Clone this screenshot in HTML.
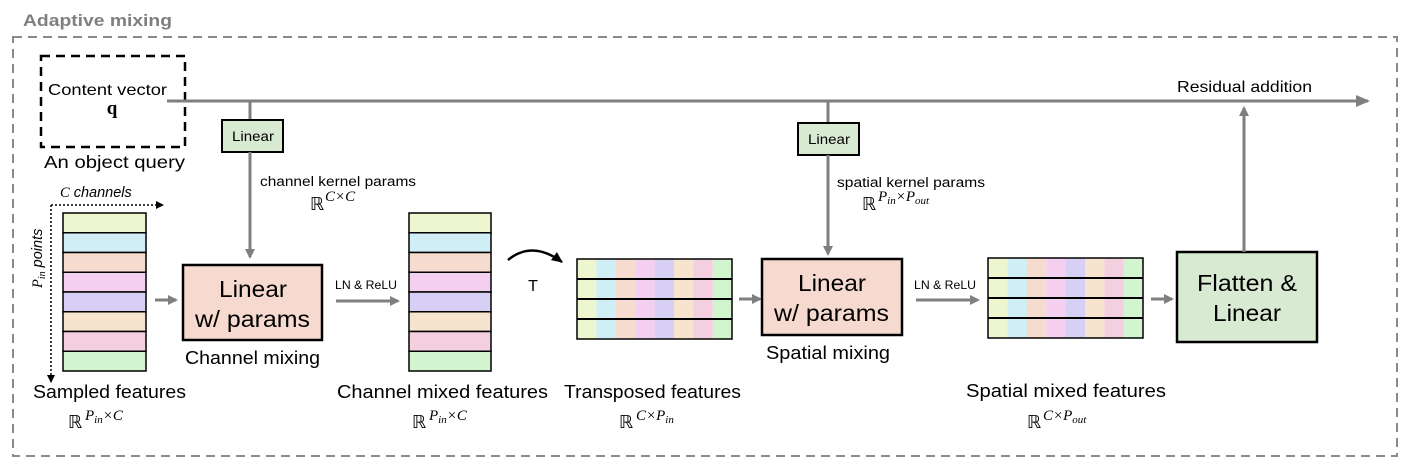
<!DOCTYPE html>
<html><head><meta charset="utf-8"><style>
html,body{margin:0;padding:0;background:#fff;}
svg{display:block;font-family:"Liberation Sans","DejaVu Sans",sans-serif;}
.m{font-family:"Liberation Serif","DejaVu Serif",serif;font-style:italic;}
</style></head><body>
<svg width="1415" height="474" viewBox="0 0 1415 474" xmlns="http://www.w3.org/2000/svg">
<defs>
<marker id="ga" markerWidth="10" markerHeight="10" refX="8" refY="5" orient="auto" markerUnits="userSpaceOnUse"><path d="M0,0 L10,5 L0,10 Z" fill="#7f7f7f"/></marker>
<marker id="ga2" markerWidth="14" markerHeight="12" refX="12" refY="6" orient="auto" markerUnits="userSpaceOnUse"><path d="M0,0 L14,6 L0,12 Z" fill="#7f7f7f"/></marker>
<marker id="ka" markerWidth="8" markerHeight="8" refX="7" refY="4" orient="auto" markerUnits="userSpaceOnUse"><path d="M0,0 L8,4 L0,8 Z" fill="#000"/></marker>
<marker id="ka2" markerWidth="12" markerHeight="12" refX="10" refY="6" orient="auto" markerUnits="userSpaceOnUse"><path d="M0,1 L11,6 L0,11 Z" fill="#000"/></marker>
</defs>

<text x="23" y="26" font-size="17" font-weight="bold" fill="#7f7f7f" textLength="149" lengthAdjust="spacingAndGlyphs">Adaptive mixing</text>
<rect x="13" y="37" width="1384" height="419" fill="none" stroke="#8a8a8a" stroke-width="2" stroke-dasharray="9,6"/>

<rect x="41" y="56" width="144" height="91" fill="none" stroke="#000" stroke-width="2.5" stroke-dasharray="9,6"/>
<text x="48" y="95" font-size="16" textLength="119" lengthAdjust="spacingAndGlyphs">Content vector</text>
<text x="112" y="114" font-size="19" font-weight="bold" text-anchor="middle" font-family="Liberation Serif,serif">q</text>
<text x="44" y="168" font-size="17.5" textLength="141" lengthAdjust="spacingAndGlyphs">An object query</text>

<line x1="167" y1="101" x2="1368" y2="101" stroke="#7f7f7f" stroke-width="3" marker-end="url(#ga2)"/>
<text x="1177" y="92" font-size="16" textLength="135" lengthAdjust="spacingAndGlyphs">Residual addition</text>

<line x1="250" y1="101" x2="250" y2="120" stroke="#7f7f7f" stroke-width="3"/>
<rect x="222" y="120" width="61" height="32" fill="#d9ead3" stroke="#000" stroke-width="2"/>
<text x="232" y="141" font-size="13.5" textLength="42" lengthAdjust="spacingAndGlyphs">Linear</text>
<line x1="250" y1="152" x2="250" y2="257" stroke="#7f7f7f" stroke-width="3" marker-end="url(#ga)"/>
<text x="260" y="186" font-size="13.5" textLength="156" lengthAdjust="spacingAndGlyphs">channel kernel params</text>
<text x="310" y="210" font-size="18">ℝ</text><text x="325" y="201" font-size="15" class="m">C×C</text>

<g stroke="#000" stroke-width="1.5">
<rect x="63" y="213" width="83" height="19.75" fill="#eef6cf"/>
<rect x="63" y="232.75" width="83" height="19.75" fill="#cfeef6"/>
<rect x="63" y="252.5" width="83" height="19.75" fill="#f6dccf"/>
<rect x="63" y="272.25" width="83" height="19.75" fill="#f4cff0"/>
<rect x="63" y="292" width="83" height="19.75" fill="#d8cff4"/>
<rect x="63" y="311.75" width="83" height="19.75" fill="#f6e4cf"/>
<rect x="63" y="331.5" width="83" height="19.75" fill="#f4cfe0"/>
<rect x="63" y="351.25" width="83" height="19.75" fill="#d2f4cf"/>
</g>
<line x1="51" y1="205" x2="163" y2="205" stroke="#000" stroke-width="1.5" stroke-dasharray="2,2" marker-end="url(#ka)"/>
<line x1="51" y1="205" x2="51" y2="382" stroke="#000" stroke-width="1.5" stroke-dasharray="2,2" marker-end="url(#ka)"/>
<text x="60" y="197" font-size="14.5" font-style="italic"><tspan class="m">C</tspan> channels</text>
<text transform="translate(42,288) rotate(-90)" font-size="14.5" font-style="italic"><tspan class="m">P<tspan font-size="10" dy="3">in</tspan></tspan><tspan dy="-3"> points</tspan></text>
<text x="33" y="398" font-size="18" textLength="153" lengthAdjust="spacingAndGlyphs">Sampled features</text>
<text x="68" y="428" font-size="18">ℝ</text><text x="85" y="420" font-size="15" class="m">P<tspan font-size="11" dy="3">in</tspan><tspan dy="-3">×C</tspan></text>

<line x1="155" y1="300" x2="176" y2="300" stroke="#7f7f7f" stroke-width="3" marker-end="url(#ga)"/>

<rect x="183" y="265" width="139" height="75" fill="#f6dacf" stroke="#000" stroke-width="2.5"/>
<text x="219" y="297" font-size="23" textLength="68" lengthAdjust="spacingAndGlyphs">Linear</text>
<text x="195" y="327" font-size="23" textLength="115" lengthAdjust="spacingAndGlyphs">w/ params</text>
<text x="185" y="364" font-size="18" textLength="135" lengthAdjust="spacingAndGlyphs">Channel mixing</text>

<text x="335" y="289" font-size="12" textLength="62" lengthAdjust="spacingAndGlyphs">LN &amp; ReLU</text>
<line x1="336" y1="301" x2="398" y2="301" stroke="#7f7f7f" stroke-width="3" marker-end="url(#ga)"/>

<g stroke="#000" stroke-width="1.5">
<rect x="409" y="213" width="82" height="19.75" fill="#eef6cf"/>
<rect x="409" y="232.75" width="82" height="19.75" fill="#cfeef6"/>
<rect x="409" y="252.5" width="82" height="19.75" fill="#f6dccf"/>
<rect x="409" y="272.25" width="82" height="19.75" fill="#f4cff0"/>
<rect x="409" y="292" width="82" height="19.75" fill="#d8cff4"/>
<rect x="409" y="311.75" width="82" height="19.75" fill="#f6e4cf"/>
<rect x="409" y="331.5" width="82" height="19.75" fill="#f4cfe0"/>
<rect x="409" y="351.25" width="82" height="19.75" fill="#d2f4cf"/>
</g>
<text x="337" y="398" font-size="18" textLength="211" lengthAdjust="spacingAndGlyphs">Channel mixed features</text>
<text x="412" y="428" font-size="18">ℝ</text><text x="429" y="420" font-size="15" class="m">P<tspan font-size="11" dy="3">in</tspan><tspan dy="-3">×C</tspan></text>

<path d="M508,260 Q532,240 562,262" fill="none" stroke="#000" stroke-width="2.5" marker-end="url(#ka2)"/>
<text x="533" y="291" font-size="16" text-anchor="middle">T</text>

<g id="grid">
<rect x="577" y="259" width="19.4" height="80" fill="#eef6cf"/>
<rect x="596.4" y="259" width="19.4" height="80" fill="#cfeef6"/>
<rect x="615.8" y="259" width="19.4" height="80" fill="#f6dccf"/>
<rect x="635.2" y="259" width="19.4" height="80" fill="#f4cff0"/>
<rect x="654.6" y="259" width="19.4" height="80" fill="#d8cff4"/>
<rect x="674" y="259" width="19.4" height="80" fill="#f6e4cf"/>
<rect x="693.4" y="259" width="19.4" height="80" fill="#f4cfe0"/>
<rect x="712.8" y="259" width="19.4" height="80" fill="#d2f4cf"/>
<rect x="577" y="259" width="155" height="80" fill="none" stroke="#000" stroke-width="1.5"/>
<line x1="577" y1="279" x2="732" y2="279" stroke="#000" stroke-width="2"/>
<line x1="577" y1="299" x2="732" y2="299" stroke="#000" stroke-width="2"/>
<line x1="577" y1="319" x2="732" y2="319" stroke="#000" stroke-width="2"/>
</g>
<text x="564" y="398" font-size="18" textLength="177" lengthAdjust="spacingAndGlyphs">Transposed features</text>
<text x="619" y="428" font-size="18">ℝ</text><text x="636" y="420" font-size="15" class="m">C×P<tspan font-size="11" dy="3">in</tspan></text>

<line x1="739" y1="299" x2="760" y2="299" stroke="#7f7f7f" stroke-width="3" marker-end="url(#ga)"/>

<line x1="828" y1="101" x2="828" y2="123" stroke="#7f7f7f" stroke-width="3"/>
<rect x="798" y="123" width="61" height="32" fill="#d9ead3" stroke="#000" stroke-width="2"/>
<text x="808" y="144" font-size="13.5" textLength="42" lengthAdjust="spacingAndGlyphs">Linear</text>
<line x1="828" y1="155" x2="828" y2="254" stroke="#7f7f7f" stroke-width="3" marker-end="url(#ga)"/>
<text x="837" y="187" font-size="13.5" textLength="148" lengthAdjust="spacingAndGlyphs">spatial kernel params</text>
<text x="862" y="210" font-size="18">ℝ</text><text x="878" y="201" font-size="15" class="m">P<tspan font-size="11" dy="3">in</tspan><tspan dy="-3">×P</tspan><tspan font-size="11" dy="3">out</tspan></text>

<rect x="762" y="259" width="140" height="76" fill="#f6dacf" stroke="#000" stroke-width="2.5"/>
<text x="798" y="291" font-size="23" textLength="68" lengthAdjust="spacingAndGlyphs">Linear</text>
<text x="774" y="321" font-size="23" textLength="115" lengthAdjust="spacingAndGlyphs">w/ params</text>
<text x="766" y="359" font-size="18" textLength="124" lengthAdjust="spacingAndGlyphs">Spatial mixing</text>

<text x="914" y="289" font-size="12" textLength="62" lengthAdjust="spacingAndGlyphs">LN &amp; ReLU</text>
<line x1="916" y1="300" x2="978" y2="300" stroke="#7f7f7f" stroke-width="3" marker-end="url(#ga)"/>

<use href="#grid" transform="translate(411,-1)"/>
<text x="966" y="397" font-size="18" textLength="200" lengthAdjust="spacingAndGlyphs">Spatial mixed features</text>
<text x="1027" y="428" font-size="18">ℝ</text><text x="1043" y="420" font-size="15" class="m">C×P<tspan font-size="11" dy="3">out</tspan></text>

<line x1="1151" y1="299" x2="1172" y2="299" stroke="#7f7f7f" stroke-width="3" marker-end="url(#ga)"/>

<rect x="1177" y="252" width="140" height="90" fill="#d9ead3" stroke="#000" stroke-width="2.5"/>
<text x="1197" y="291" font-size="23" textLength="100" lengthAdjust="spacingAndGlyphs">Flatten &amp;</text>
<text x="1213" y="321" font-size="23" textLength="68" lengthAdjust="spacingAndGlyphs">Linear</text>
<line x1="1244" y1="252" x2="1244" y2="108" stroke="#7f7f7f" stroke-width="3" marker-end="url(#ga)"/>
</svg>
</body></html>
